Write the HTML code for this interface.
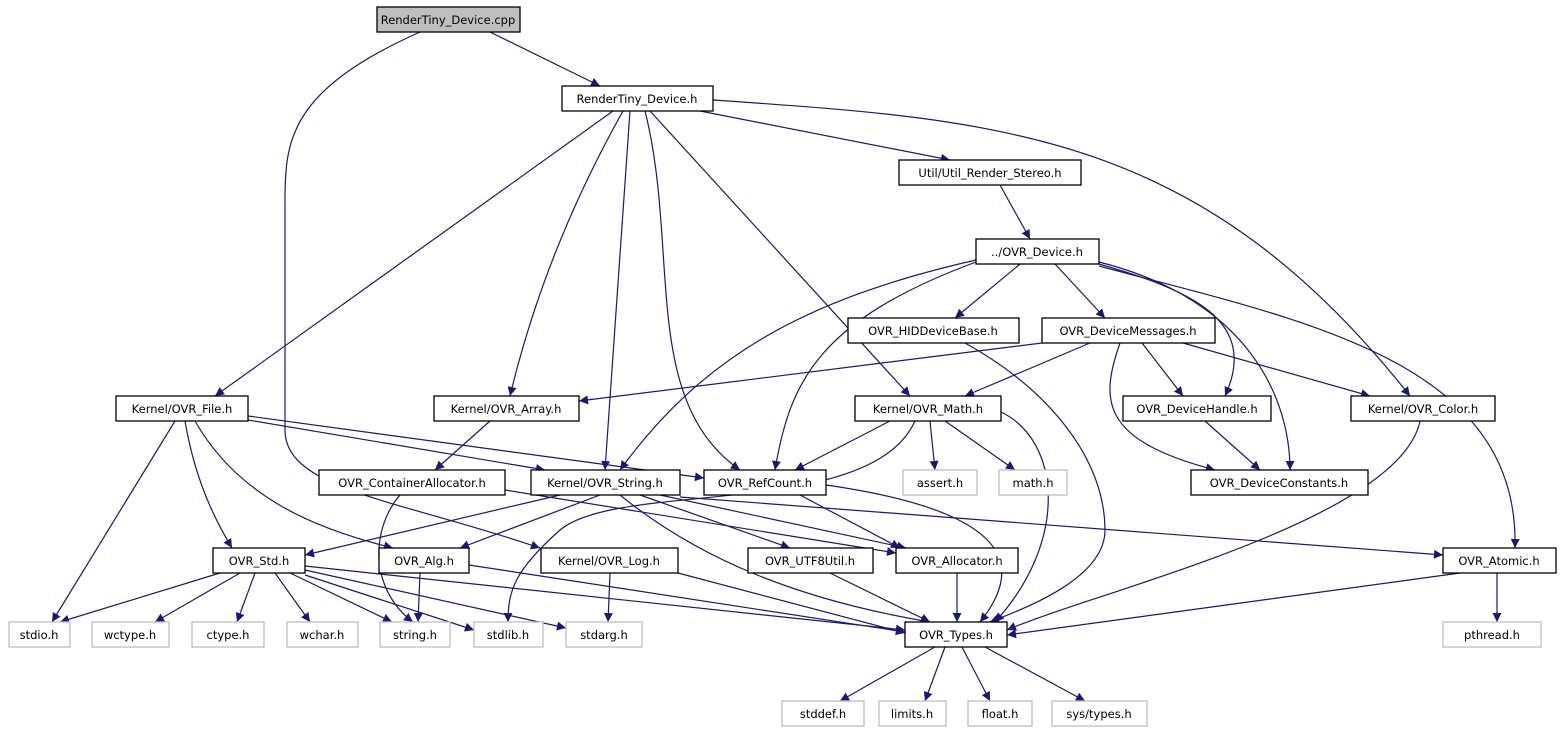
<!DOCTYPE html>
<html><head><meta charset="utf-8"><style>
html,body{margin:0;padding:0;background:#fff;width:1561px;height:736px;overflow:hidden}
svg text{font-family:"DejaVu Sans","Liberation Sans",sans-serif;font-size:11.5px;text-anchor:middle;fill:#000}
.n{fill:#fff;stroke:#000;stroke-width:1.3}
.g{fill:#fff;stroke:#bfbfbf;stroke-width:1.3}
.e{fill:none;stroke:#191970;stroke-width:1.2;marker-end:url(#a)}
</style></head><body>
<svg width="1561" height="736" xmlns="http://www.w3.org/2000/svg">
<defs><marker id="a" viewBox="0 0 10 10" refX="10" refY="5" markerWidth="11" markerHeight="9" markerUnits="userSpaceOnUse" orient="auto"><path d="M0,0 L10,5 L0,10 z" fill="#191970"/></marker></defs>
<g>
<path class="e" d="M490,32 L600,86"/>
<path class="e" d="M420,32 C290,90 285,140 285,200 L285,430 C285,490 400,500 540,548"/>
<path class="e" d="M700,111 L950,160"/>
<path class="e" d="M613,111 L215,396"/>
<path class="e" d="M623,111 Q545,250 510,396"/>
<path class="e" d="M630,111 L605,470"/>
<path class="e" d="M645,111 C680,250 640,400 740,470"/>
<path class="e" d="M650,111 L910,396"/>
<path class="e" d="M713,100 C1000,120 1200,130 1410,396"/>
<path class="e" d="M1000,185 L1030,239"/>
<path class="e" d="M1020,264 L955,318"/>
<path class="e" d="M1055,264 L1105,318"/>
<path class="e" d="M1099,264 C1190,290 1260,320 1225,396"/>
<path class="e" d="M1099,262 C1250,300 1290,400 1290,470"/>
<path class="e" d="M1099,266 C1300,320 1520,360 1515,548"/>
<path class="e" d="M976,262 C820,320 790,380 775,470"/>
<path class="e" d="M976,260 C800,300 700,360 620,470"/>
<path class="e" d="M965,343 C1050,390 1105,460 1105,530 C1105,580 1020,610 990,622"/>
<path class="e" d="M1042,343 L579,401"/>
<path class="e" d="M1090,343 L965,396"/>
<path class="e" d="M1142,343 L1183,396"/>
<path class="e" d="M1183,343 L1370,396"/>
<path class="e" d="M1120,343 C1100,400 1100,440 1215,470"/>
<path class="e" d="M175,421 L52,622"/>
<path class="e" d="M185,421 C195,480 215,520 232,548"/>
<path class="e" d="M195,421 C240,500 320,530 393,548"/>
<path class="e" d="M248,420 L545,470"/>
<path class="e" d="M248,416 L704,478"/>
<path class="e" d="M490,421 L435,470"/>
<path class="e" d="M890,421 L795,470"/>
<path class="e" d="M930,421 L935,470"/>
<path class="e" d="M945,421 L1015,470"/>
<path class="e" d="M915,421 C870,520 620,480 560,530 C515,570 508,590 508,622"/>
<path class="e" d="M1001,412 C1060,440 1070,540 995,622"/>
<path class="e" d="M1205,421 L1260,470"/>
<path class="e" d="M1420,421 C1400,520 1100,590 1007,630"/>
<path class="e" d="M400,495 C370,530 370,590 413,622"/>
<path class="e" d="M505,490 L896,553"/>
<path class="e" d="M560,495 L305,555"/>
<path class="e" d="M600,495 L460,548"/>
<path class="e" d="M640,495 L790,548"/>
<path class="e" d="M660,495 L906,548"/>
<path class="e" d="M620,495 C700,560 800,600 930,622"/>
<path class="e" d="M680,497 L1443,555"/>
<path class="e" d="M800,495 L900,548"/>
<path class="e" d="M826,485 C1000,510 1030,560 980,622"/>
<path class="e" d="M220,573 L60,622"/>
<path class="e" d="M240,573 L155,622"/>
<path class="e" d="M255,573 L237,622"/>
<path class="e" d="M275,573 L310,622"/>
<path class="e" d="M290,573 L392,622"/>
<path class="e" d="M305,575 L474,630"/>
<path class="e" d="M305,570 L566,628"/>
<path class="e" d="M305,566 L905,630"/>
<path class="e" d="M420,573 L418,622"/>
<path class="e" d="M469,565 L905,632"/>
<path class="e" d="M610,573 L608,622"/>
<path class="e" d="M678,573 L905,633"/>
<path class="e" d="M830,573 L930,622"/>
<path class="e" d="M957,573 L957,622"/>
<path class="e" d="M1460,573 L1007,635"/>
<path class="e" d="M1497,573 L1497,622"/>
<path class="e" d="M935,647 L840,701"/>
<path class="e" d="M945,647 L925,701"/>
<path class="e" d="M962,647 L990,701"/>
<path class="e" d="M985,647 L1085,701"/>
</g>
<g>
<rect x="377" y="7" width="143" height="25" fill="#bfbfbf" stroke="#000" stroke-width="1.3"/><text x="448" y="24">RenderTiny_Device.cpp</text>
<rect class="n" x="562" y="86" width="151" height="25"/><text x="637" y="103">RenderTiny_Device.h</text>
<rect class="n" x="899" y="160" width="182" height="25"/><text x="990" y="177">Util/Util_Render_Stereo.h</text>
<rect class="n" x="976" y="239" width="123" height="25"/><text x="1037" y="256">../OVR_Device.h</text>
<rect class="n" x="848" y="318" width="171" height="25"/><text x="933" y="335">OVR_HIDDeviceBase.h</text>
<rect class="n" x="1042" y="318" width="173" height="25"/><text x="1128" y="335">OVR_DeviceMessages.h</text>
<rect class="n" x="116" y="396" width="132" height="25"/><text x="182" y="413">Kernel/OVR_File.h</text>
<rect class="n" x="434" y="396" width="145" height="25"/><text x="506" y="413">Kernel/OVR_Array.h</text>
<rect class="n" x="855" y="396" width="146" height="25"/><text x="928" y="413">Kernel/OVR_Math.h</text>
<rect class="n" x="1123" y="396" width="148" height="25"/><text x="1197" y="413">OVR_DeviceHandle.h</text>
<rect class="n" x="1351" y="396" width="144" height="25"/><text x="1423" y="413">Kernel/OVR_Color.h</text>
<rect class="n" x="319" y="470" width="186" height="25"/><text x="412" y="487">OVR_ContainerAllocator.h</text>
<rect class="n" x="531" y="470" width="149" height="25"/><text x="605" y="487">Kernel/OVR_String.h</text>
<rect class="n" x="704" y="470" width="122" height="25"/><text x="765" y="487">OVR_RefCount.h</text>
<rect class="g" x="903" y="470" width="74" height="25"/><text x="940" y="487">assert.h</text>
<rect class="g" x="999" y="470" width="68" height="25"/><text x="1033" y="487">math.h</text>
<rect class="n" x="1191" y="470" width="177" height="25"/><text x="1279" y="487">OVR_DeviceConstants.h</text>
<rect class="n" x="213" y="548" width="92" height="25"/><text x="259" y="565">OVR_Std.h</text>
<rect class="n" x="379" y="548" width="90" height="25"/><text x="424" y="565">OVR_Alg.h</text>
<rect class="n" x="541" y="548" width="137" height="25"/><text x="609" y="565">Kernel/OVR_Log.h</text>
<rect class="n" x="748" y="548" width="125" height="25"/><text x="810" y="565">OVR_UTF8Util.h</text>
<rect class="n" x="896" y="548" width="122" height="25"/><text x="957" y="565">OVR_Allocator.h</text>
<rect class="n" x="1443" y="548" width="113" height="25"/><text x="1499" y="565">OVR_Atomic.h</text>
<rect class="g" x="9" y="622" width="61" height="25"/><text x="39" y="639">stdio.h</text>
<rect class="g" x="92" y="622" width="77" height="25"/><text x="130" y="639">wctype.h</text>
<rect class="g" x="192" y="622" width="72" height="25"/><text x="228" y="639">ctype.h</text>
<rect class="g" x="287" y="622" width="71" height="25"/><text x="322" y="639">wchar.h</text>
<rect class="g" x="380" y="622" width="70" height="25"/><text x="415" y="639">string.h</text>
<rect class="g" x="474" y="622" width="69" height="25"/><text x="508" y="639">stdlib.h</text>
<rect class="g" x="566" y="622" width="76" height="25"/><text x="604" y="639">stdarg.h</text>
<rect class="n" x="905" y="622" width="102" height="25"/><text x="956" y="639">OVR_Types.h</text>
<rect class="g" x="1443" y="622" width="98" height="25"/><text x="1492" y="639">pthread.h</text>
<rect class="g" x="782" y="701" width="82" height="25"/><text x="823" y="718">stddef.h</text>
<rect class="g" x="879" y="701" width="67" height="25"/><text x="912" y="718">limits.h</text>
<rect class="g" x="968" y="701" width="64" height="25"/><text x="1000" y="718">float.h</text>
<rect class="g" x="1052" y="701" width="95" height="25"/><text x="1099" y="718">sys/types.h</text>
</g>
</svg>
</body></html>
